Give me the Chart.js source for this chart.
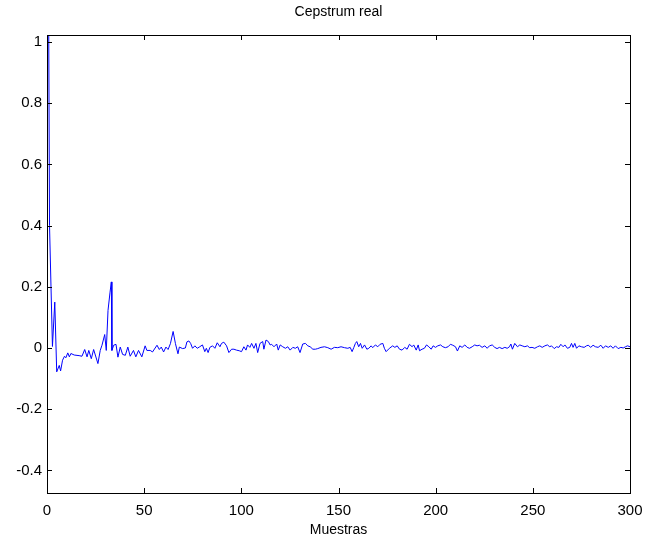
<!DOCTYPE html>
<html>
<head>
<meta charset="utf-8">
<script src="https://cdn.jsdelivr.net/npm/chart.js@4"></script>
<style>
  html, body { margin: 0; padding: 0; background: #fff; }
  #wrap { width: 649px; height: 548px; }
</style>
</head>
<body>
<div id="wrap"><canvas id="cep"></canvas></div>
<script>
const muestras = [
  0.9, 1.3, 2.8, 4, 5, 6.3, 7, 8, 9, 9.7, 10.7, 11.5, 12.3, 14, 16.5, 18, 19.4, 20.6, 21.5,
  22.8, 24, 26.2, 27.4, 28.3, 29.7, 30.5, 31.4, 32.4, 33.1, 33.4, 34.3, 35.5, 36.5, 37.7, 38.9,
  40.3, 41.6, 42.8, 44.5, 45.7, 47.1, 48.8, 50.5, 51.4, 53.1, 54.3, 56.6, 57.8, 58.8, 60, 61.2,
  62.3, 63.5, 64.9, 66.1, 67.4, 68.1, 69.8, 71.2, 72, 73,
  73.9, 74.9, 76.1, 77.3, 78.6, 80, 81.2, 82, 82.9, 83.8, 85.2, 86.4, 87.6, 89, 89.8, 91, 92.4,
  93.6, 95, 96.2, 97.5, 98.9, 100.1, 101.3, 102.4, 103.2, 104.4, 105.3, 106.5, 107.5, 108.4,
  109.6, 111, 111.6, 112.7, 113.9, 114.8, 115.6, 116.8, 118.2, 119,
  120, 121.3, 122.7, 123.9, 125.1, 126.5, 127.8, 129, 130.2, 131.6, 133, 134.2, 135.4, 136.8,
  138.1, 139.3, 141, 142.8, 144.5, 146.2, 147.9, 149.6, 151.3, 153.1, 154.8, 156, 157, 157.9,
  158.7, 159.4, 160.4, 161.3, 162.2, 163.4, 164.6, 165.6, 166.8, 167.6, 169, 170.2, 171.4,
  172.8, 173.6, 174.5, 176.2, 177.9,
  179, 180.2, 181.4, 182.7, 184.1, 185.3, 186.5, 187.9, 188.7, 190, 191, 191.7, 193, 194.2,
  195.3, 196.5, 197.7, 198.7, 199.9, 201.1, 202.5, 203.7, 205, 206.4, 207.6, 208.8, 210.2,
  211.2, 212.4, 213.6, 215, 216.2, 217.4, 218.8, 220.1, 221.3, 222.5, 223.9, 225.3, 226.5,
  227.7, 229.1, 230.4, 231.6, 232.8, 234.2, 235.6, 236.8,
  238, 238.7, 239.5, 240.7, 242.1, 243.3, 244.5, 245.9, 247.2, 248.4, 249.6, 251, 252.4, 253.6,
  254.8, 256.2, 257.5, 258.7, 259.6, 261, 262.2, 263.4, 264.4, 265.6, 266.5, 267.8, 269, 269.9,
  270.7, 271.6, 272.5, 273.7, 275, 276.4, 277.6, 278.5, 279.8, 281, 282.2, 283.6, 285, 286.2,
  287.4, 288.8, 290.1, 291.3, 292.5, 293.9, 295.3, 296.5, 297.7, 298.7, 300
];
const cepstrum = [
  1.02, 0.40, 0.005, 0.15, -0.078, -0.057, -0.075, -0.04, -0.027, -0.032, -0.016, -0.029, -0.018, -0.023, -0.025, -0.027, -0.005, -0.029, -0.008,
  -0.035, -0.005, -0.051, -0.008, 0.009, 0.044, -0.008, 0.123, 0.18, 0.216, -0.008, 0.009, 0.012, -0.03, 0.003, -0.021,
  -0.024, 0.003, -0.027, -0.008, -0.029, -0.008, -0.029, 0.007, -0.008, -0.008, -0.013, 0.009, -0.005, 0.003, -0.013, 0.003,
  -0.005, 0.014, 0.054, 0.014, -0.019, 0.003, -0.002, 0, 0.02, 0.023,
  0.015, -0.001, 0.007, -0.001, 0.004, 0.010, -0.012, -0.001, -0.015, 0.002, 0.007, -0.001, 0.017, 0.004, 0.015, 0.019, 0.007,
  -0.015, -0.004, -0.004, -0.007, -0.009, -0.012, 0.004, -0.007, 0.010, 0.002, 0.015, -0.001, 0.015, -0.015,
  0.015, 0.021, -0.004, 0.026, 0.021, 0.010, 0.012, 0.004, 0.013, -0.007,
  0.010, 0.004, -0.001, 0.004, -0.007, 0.002, -0.001, 0.004, -0.015, 0.013, 0.015, 0.007, 0.004, -0.004,
  -0.004, -0.002, 0.002, 0.004, 0.001, -0.004, 0.002, 0.001, 0.004, 0.001, -0.001, 0.002, -0.012, 0.002,
  0.015, 0.021, 0.004, 0.015, -0.001, 0.010, -0.004, -0.001, 0.007, 0.001, 0.010, 0.004, 0.012,
  0.015, -0.001, -0.012, -0.001, 0.007,
  0.002, 0.007, -0.004, -0.007, 0.002, -0.004, 0.012, 0.004, 0.010, -0.007, 0.010, -0.009, -0.004, -0.001,
  0.010, 0.004, -0.004, 0.007, 0.002, 0.007, 0.010, 0.004, 0.001, 0.004, 0.012, 0.009, 0.004,
  -0.010, 0.007, 0.002, 0.010, 0.002, -0.001, 0.004, 0.010, 0.007, 0.009, 0.002, 0.007, -0.001,
  0.007, 0.010, 0.002, -0.002, 0.002, -0.002, 0.002, -0.001,
  0.004, 0.013, -0.004, 0.015, 0.004, 0.010, 0.007, 0.004, 0.007, 0.001, 0.002, -0.001, 0.004, 0.007,
  0.002, 0.007, 0.010, 0.004, 0.007, -0.002, 0.004, 0.002, 0.012, 0.004, 0.010, -0.001, 0.002, 0.015,
  0.002, 0.015, -0.001, 0.007, 0.004, 0.002, 0.007, 0.009, 0.002, 0.009, 0.004, 0.002, 0.009, -0.001,
  0.007, 0.002, 0.007, -0.001, 0.007, -0.002, 0.002, 0, 0.004, 0.007, 0.004
];
const xTicks = [0, 50, 100, 150, 200, 250, 300];
const yTicks = [-0.4, -0.2, 0, 0.2, 0.4, 0.6, 0.8, 1];
const yTickLabels = ['-0.4', '-0.2', '0', '0.2', '0.4', '0.6', '0.8', '1'];

const FONT = "'Liberation Sans', Arial, sans-serif";

// MATLAB-like box with inward ticks on all four sides
const boxTicks = {
    id: 'boxTicks',
    afterDatasetsDraw(chart) {
        const { ctx, chartArea: a, scales } = chart;
        const len = 5;
        ctx.save();
        ctx.strokeStyle = '#000';
        ctx.lineWidth = 1;
        ctx.beginPath();
        scales.x.ticks.forEach(t => {
            const px = Math.round(scales.x.getPixelForValue(t.value)) + 0.5;
            ctx.moveTo(px, a.bottom); ctx.lineTo(px, a.bottom - len);
            ctx.moveTo(px, a.top); ctx.lineTo(px, a.top + len);
        });
        scales.y.ticks.forEach(t => {
            const py = Math.round(scales.y.getPixelForValue(t.value)) + 0.5;
            ctx.moveTo(a.left, py); ctx.lineTo(a.left + len, py);
            ctx.moveTo(a.right, py); ctx.lineTo(a.right - len, py);
        });
        ctx.stroke();
        ctx.strokeRect(Math.round(a.left) + 0.5, Math.round(a.top) + 0.5,
            Math.round(a.right - a.left), Math.round(a.bottom - a.top));
        ctx.restore();
    }
};

new Chart(document.getElementById('cep'), {
    type: 'line',
    data: {
        datasets: [{
            data: muestras.map((m, i) => ({ x: m, y: cepstrum[i] })),
            borderColor: '#0000ff',
            borderWidth: 1,
            pointRadius: 0,
            tension: 0,
            fill: false
        }]
    },
    options: {
        responsive: true,
        maintainAspectRatio: false,
        animation: false,
        layout: { padding: { left: 0, right: 19, top: 0, bottom: 0 } },
        plugins: {
            legend: { display: false },
            tooltip: { enabled: false },
            title: {
                display: true,
                text: 'Cepstrum real',
                color: '#000',
                fullSize: false,
                font: { family: FONT, size: 14, weight: 'normal' },
                padding: { top: 4, bottom: 14.2 }
            }
        },
        scales: {
            x: {
                type: 'linear',
                min: 0,
                max: 300,
                afterFit: s => { s.height = 55; s.paddingLeft = 0; s.paddingRight = 0; },
                afterBuildTicks: s => { s.ticks = xTicks.map(v => ({ value: v })); },
                grid: { display: false, drawTicks: false },
                border: { display: false },
                ticks: {
                    color: '#000',
                    padding: 9,
                    maxRotation: 0,
                    font: { family: FONT, size: 15 },
                    callback: v => String(v)
                },
                title: {
                    display: true,
                    text: 'Muestras',
                    color: '#000',
                    font: { family: FONT, size: 14 },
                    padding: { top: 0, bottom: 9.6 }
                }
            },
            y: {
                type: 'linear',
                min: -0.474,
                max: 1.023,
                afterFit: s => { s.width = 47; s.paddingTop = 0; s.paddingBottom = 0; },
                afterBuildTicks: s => { s.ticks = yTicks.map(v => ({ value: v })); },
                grid: { display: false, drawTicks: false },
                border: { display: false },
                ticks: {
                    color: '#000',
                    padding: 5,
                    font: { family: FONT, size: 15 },
                    callback: (v, i) => yTickLabels[i]
                }
            }
        }
    },
    plugins: [boxTicks]
});
</script>
</body>
</html>
